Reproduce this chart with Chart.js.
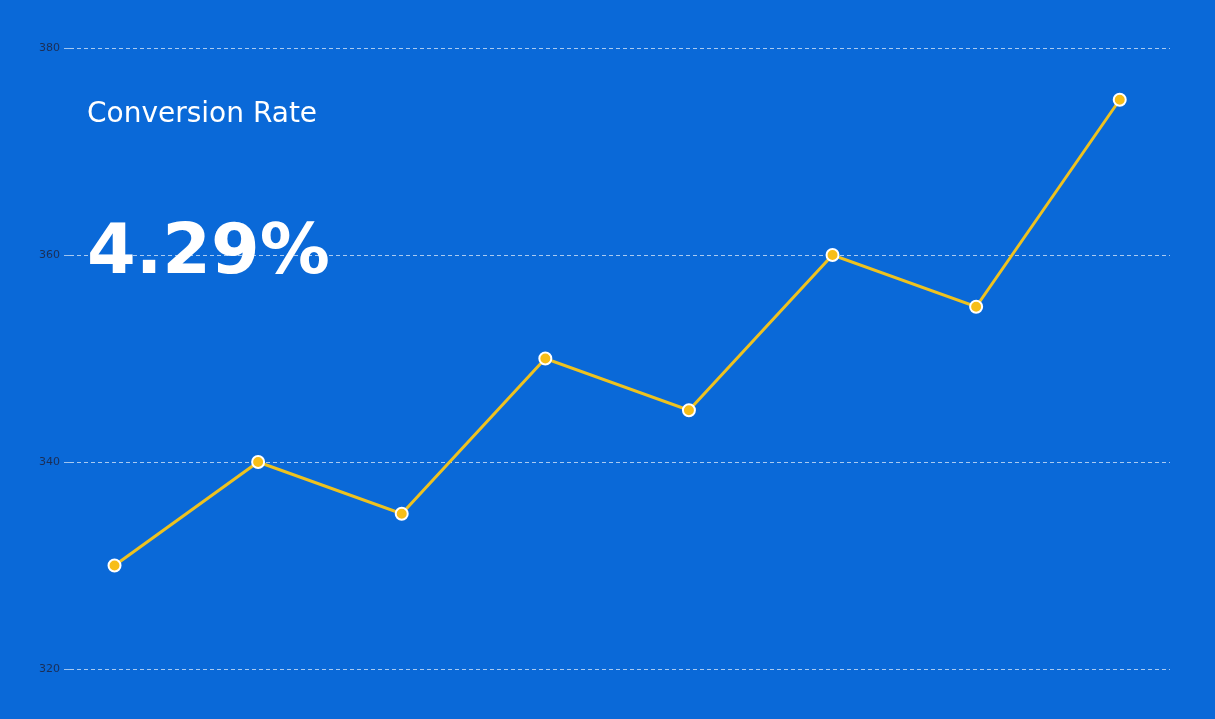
<!DOCTYPE html>
<html>
<head>
<meta charset="utf-8">
<script src="https://cdn.jsdelivr.net/npm/chart.js@4.4.1/dist/chart.umd.min.js"></script>
<style>
  html, body { margin: 0; padding: 0; background: #0a69d8; }
  #wrap { position: relative; width: 1215px; height: 719px; }
  .titulo { position: absolute; left: 87px; color: #ffffff; font-family: "DejaVu Sans", sans-serif; line-height: 1; white-space: nowrap; }
  #etiqueta { top: 99px; font-size: 28px; }
  #valor { top: 214px; font-size: 70px; font-weight: bold; }
</style>
</head>
<body>
<div id="wrap">
  <canvas id="grafica" width="1215" height="719"></canvas>
  <div id="etiqueta" class="titulo">Conversion Rate</div>
  <div id="valor" class="titulo">4.29%</div>
</div>
<script>
// Datos de la gráfica
const periodos = [0, 1, 2, 3, 4, 5, 6, 7];
const conversiones = [330, 340, 335, 350, 345, 360, 355, 375];
const ticksY = [320, 340, 360, 380];

const puntos = periodos.map((p, i) => ({ x: p, y: conversiones[i] }));

new Chart(document.getElementById('grafica'), {
  type: 'line',
  data: {
    datasets: [{
      label: 'Conversion Rate',
      data: puntos,
      borderColor: '#eec21f',
      borderWidth: 3,
      backgroundColor: '#f7be18',
      pointBackgroundColor: '#f7be18',
      pointBorderColor: '#ffffff',
      pointBorderWidth: 2,
      pointRadius: 6,
      tension: 0
    }]
  },
  options: {
    responsive: false,
    animation: false,
    layout: { padding: { left: 0, right: 45, top: 48, bottom: 50 } },
    plugins: { legend: { display: false }, tooltip: { enabled: false } },
    scales: {
      x: {
        type: 'linear',
        display: false,
        min: -0.31,
        max: 7.35
      },
      y: {
        min: 320,
        max: 380,
        afterFit: (escala) => { escala.width = 70; },
        afterBuildTicks: (escala) => { escala.ticks = ticksY.map(v => ({ value: v })); },
        border: { display: false, dash: [4, 3] },
        grid: {
          color: 'rgba(255,255,255,0.65)',
          lineWidth: 1,
          tickLength: 6,
          tickColor: 'rgba(255,255,255,0.6)'
        },
        ticks: {
          color: '#1c2e55',
          font: { family: 'DejaVu Sans', size: 11 },
          padding: 4
        }
      }
    }
  }
});
</script>
</body>
</html>
